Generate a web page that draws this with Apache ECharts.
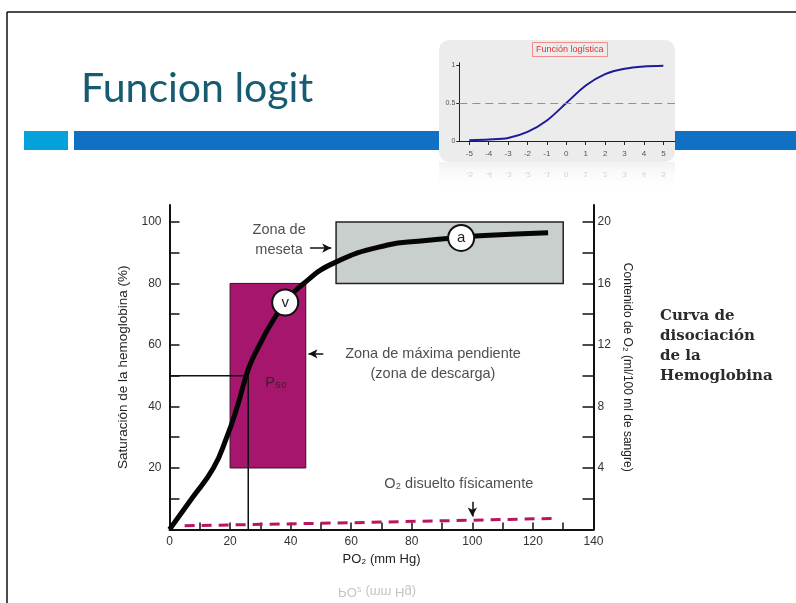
<!DOCTYPE html>
<html>
<head>
<meta charset="utf-8">
<script src="https://cdn.jsdelivr.net/npm/echarts@6/dist/echarts.min.js"></script>
<style>
    html, body { margin: 0; padding: 0; background: #fff; }
    #chart { width: 796px; height: 603px; }
</style>
</head>
<body>
<div id="chart"></div>
<script>
    // curva de disociacion de la hemoglobina
    const po2 = [0, 7.3, 14.5, 18.9, 22.4, 25.3, 27.2, 30, 33, 38.2, 43.7, 54.2, 72, 83, 96, 104, 125]
    const saturacion = [0, 10, 20, 30, 40, 50, 55, 60.5, 66, 73.8, 79.5, 86.6, 92.5, 93.8, 95, 95.6, 96.5]
    // O2 disuelto fisicamente
    const disueltoPO2 = [5, 60, 127]
    const disueltoSat = [1.2, 2.2, 3.6]
    // P50
    const p50 = 26
    // puntos v (venoso) y a (arterial)
    const puntos = [['v', 38.2, 73.8], ['a', 96.3, 94.8]]
    // zonas
    const zonaDescarga = [[20, 20], [45, 80]]
    const zonaMeseta = [[55, 80], [130, 100]]
    // ejes
    const ticksX = [10, 20, 30, 40, 50, 60, 70, 80, 90, 100, 110, 120, 130]
    const labelsX = [0, 20, 40, 60, 80, 100, 120, 140]
    const ticksSat = [10, 20, 30, 40, 50, 60, 70, 80, 90, 100]
    const labelsSat = [20, 40, 60, 80, 100]
    const ticksO2 = [2, 4, 6, 8, 10, 12, 14, 16, 18, 20]
    const labelsO2 = [4, 8, 12, 16, 20]
    // textos y flechas
    const notas = [
        ['Zona de\nmeseta', 36.2, 94.2],
        ['Zona de máxima pendiente\n(zona de descarga)', 87, 53.8],
        ['O₂ disuelto físicamente', 95.5, 14.8],
        ['P₅₀', 35.2, 47.5]
    ]
    const flechas = [
        [[46.4, 91.5], [53.4, 91.5]],
        [[50.8, 57.1], [45.9, 57.1]],
        [[100, 9], [100, 4.2]]
    ]
    // funcion logistica (recuadro)
    const logitX = [-5, -4, -3, -2, -1, 0, 1, 2, 3, 4, 5]
    const logitY = [0.01, 0.02, 0.04, 0.12, 0.27, 0.5, 0.73, 0.88, 0.95, 0.98, 0.99]
    const logitTicksY = [0, 0.5, 1]

    const font = 'Liberation Sans, Arial, sans-serif'
    const chart = echarts.init(document.getElementById('chart'))

    const option = {
        animation: false,
        title: [
            {
                text: 'Funcion logit',
                left: 81, top: 68, padding: 0,
                textStyle: { fontFamily: 'Lato', fontSize: 41, fontWeight: 'normal', color: '#175b70' }
            },
            {
                text: 'Función logística',
                left: 532, top: 42, padding: [3, 4],
                borderWidth: 1, borderColor: '#f08c8c',
                textStyle: { fontFamily: font, fontSize: 9, fontWeight: 'normal', color: '#ee2b2b' }
            }
        ],
        grid: [
            { left: 169.5, right: 202.5, top: 205, bottom: 73.5 },
            { left: 459.3, right: 121, top: 62.7, bottom: 462 }
        ],
        xAxis: [
            {
                type: 'value', gridIndex: 0, min: 0, max: 140,
                name: 'PO₂ (mm Hg)', nameLocation: 'middle', nameGap: 23,
                nameTextStyle: { fontFamily: font, fontSize: 13, color: '#222' },
                axisLine: { lineStyle: { color: '#111', width: 2 } },
                axisTick: { inside: true, length: 7, customValues: ticksX, lineStyle: { color: '#111', width: 1.5 } },
                axisLabel: { customValues: labelsX, margin: 6, fontFamily: font, fontSize: 12, color: '#333' },
                splitLine: { show: false }
            },
            {
                type: 'value', gridIndex: 1, min: -5.515, max: 5.6,
                axisLine: { onZero: false, lineStyle: { color: '#222', width: 1 } },
                axisTick: { customValues: logitX, length: 4, lineStyle: { color: '#222' } },
                axisLabel: { customValues: logitX, margin: 9, fontFamily: font, fontSize: 8, color: '#555' },
                splitLine: { show: false }
            }
        ],
        yAxis: [
            {
                type: 'value', gridIndex: 0, min: 0, max: 105.5,
                name: 'Saturación de la hemoglobina (%)', nameLocation: 'middle', nameGap: 30, nameRotate: 90,
                nameTextStyle: { fontFamily: font, fontSize: 13.5, color: '#222' },
                axisLine: { show: true, lineStyle: { color: '#111', width: 2 } },
                axisTick: { inside: true, length: 10, customValues: ticksSat, lineStyle: { color: '#111', width: 1.5 } },
                axisLabel: { customValues: labelsSat, margin: 8, fontFamily: font, fontSize: 12, color: '#333' },
                splitLine: { show: false }
            },
            {
                type: 'value', gridIndex: 0, position: 'right', min: 0, max: 21.1,
                name: 'Contenido de O₂ (ml/100 ml de sangre)', nameLocation: 'middle', nameGap: 24, nameRotate: -90,
                nameTextStyle: { fontFamily: font, fontSize: 12, color: '#222' },
                axisLine: { show: true, lineStyle: { color: '#111', width: 2 } },
                axisTick: { inside: true, length: 11, customValues: ticksO2, lineStyle: { color: '#111', width: 1.5 } },
                axisLabel: { customValues: labelsO2, margin: 4, fontFamily: font, fontSize: 12, color: '#333' },
                splitLine: { show: false }
            },
            {
                type: 'value', gridIndex: 1, min: 0, max: 1.03,
                axisLine: { show: true, onZero: false, lineStyle: { color: '#222', width: 1 } },
                axisTick: { customValues: logitTicksY, length: 3, lineStyle: { color: '#222' } },
                axisLabel: { customValues: logitTicksY, margin: 4, fontFamily: font, fontSize: 7, color: '#555' },
                splitLine: { show: false }
            }
        ],
        series: [
            {
                // zonas
                type: 'line', xAxisIndex: 0, yAxisIndex: 0, data: [], z: 1,
                markArea: {
                    silent: true,
                    data: [
                        [
                            { coord: zonaDescarga[0], itemStyle: { color: '#a5166c', borderColor: '#3a1028', borderWidth: 1 } },
                            { coord: zonaDescarga[1] }
                        ],
                        [
                            { coord: zonaMeseta[0], itemStyle: { color: '#c8cfcc', borderColor: '#222', borderWidth: 1.5 } },
                            { coord: zonaMeseta[1] }
                        ]
                    ]
                }
            },
            {
                // lineas de P50
                type: 'line', xAxisIndex: 0, yAxisIndex: 0, z: 3,
                data: [[0, 50], [p50, 50], [p50, 0]],
                symbol: 'none',
                lineStyle: { color: '#111', width: 1.5 }
            },
            {
                type: 'line', xAxisIndex: 0, yAxisIndex: 0, z: 3,
                data: disueltoPO2.map((x, i) => [x, disueltoSat[i]]),
                symbol: 'none',
                lineStyle: { color: '#b8175f', width: 3, type: [10, 7] }
            },
            {
                type: 'line', xAxisIndex: 0, yAxisIndex: 0, z: 4,
                data: po2.map((x, i) => [x, saturacion[i]]),
                smooth: 0.5,
                symbol: 'none',
                lineStyle: { color: '#050505', width: 5 }
            },
            {
                type: 'scatter', xAxisIndex: 0, yAxisIndex: 0, z: 5,
                data: puntos.map(p => [p[1], p[2], p[0]]),
                symbolSize: 26,
                itemStyle: { color: '#fff', borderColor: '#111', borderWidth: 2, opacity: 1 },
                label: { show: true, position: 'inside', formatter: p => p.data[2], fontFamily: font, fontSize: 15, color: '#222' }
            },
            {
                type: 'scatter', xAxisIndex: 0, yAxisIndex: 0, z: 6,
                data: notas.map(n => [n[1], n[2], n[0]]),
                symbolSize: 0,
                label: {
                    show: true, position: 'inside', formatter: p => p.data[2],
                    fontFamily: font, fontSize: 14.5, lineHeight: 20, color: '#222', align: 'center'
                },
                markLine: {
                    silent: true,
                    symbol: ['none', 'arrow'], symbolSize: [7, 9],
                    label: { show: false },
                    lineStyle: { color: '#111', width: 1.5, type: 'solid' },
                    data: flechas.map(f => [{ coord: f[0] }, { coord: f[1] }])
                }
            },
            {
                type: 'line', xAxisIndex: 1, yAxisIndex: 2, z: 3,
                data: logitX.map((x, i) => [x, logitY[i]]),
                smooth: 0.3,
                symbol: 'none',
                lineStyle: { color: '#1c1c98', width: 2 },
                markLine: {
                    silent: true, symbol: 'none',
                    label: { show: false },
                    lineStyle: { color: '#8a8ac8', width: 1.2, type: [8, 5] },
                    data: [{ yAxis: 0.5 }]
                }
            }
        ],
        graphic: [
            { type: 'line', z: -5, shape: { x1: 7, y1: 12, x2: 796, y2: 12 }, style: { stroke: '#111', lineWidth: 1.5 } },
            { type: 'line', z: -5, shape: { x1: 7, y1: 12, x2: 7, y2: 603 }, style: { stroke: '#111', lineWidth: 1.5 } },
            { type: 'rect', z: -5, shape: { x: 24, y: 131, width: 44, height: 19 }, style: { fill: '#05a1da' } },
            { type: 'rect', z: -5, shape: { x: 74, y: 131, width: 722, height: 19 }, style: { fill: '#1070c4' } },
            { type: 'rect', z: -4, shape: { x: 439, y: 40, width: 236, height: 122, r: 10 }, style: { fill: '#ececec' } },
            {
                type: 'rect', z: -4, shape: { x: 439, y: 162, width: 236, height: 30 },
                style: {
                    fill: new echarts.graphic.LinearGradient(0, 0, 0, 1, [
                        { offset: 0, color: 'rgba(236,236,236,0.7)' },
                        { offset: 1, color: 'rgba(255,255,255,0)' }
                    ])
                }
            },
            {
                type: 'text', z: 5, left: 660, top: 306,
                style: {
                    text: 'Curva de\ndisociación\nde la\nHemoglobina',
                    fontFamily: 'DejaVu Serif', fontWeight: 'bold', fontSize: 15, lineHeight: 20, fill: '#2a2a2a'
                }
            },
            {
                type: 'text', z: -3, x: 377, y: 592, scaleY: -1,
                style: { text: 'PO₂ (mm Hg)', fontFamily: font, fontSize: 13, fill: '#c4c4c4', align: 'center', verticalAlign: 'middle' }
            }
        ]
    }

    chart.setOption(option)

    // reflejo de las etiquetas del recuadro
    const reflejo = logitX.map(v => ({
        type: 'text', z: -3,
        x: chart.convertToPixel({ xAxisIndex: 1 }, v), y: 174, scaleY: -1,
        style: { text: String(v), fontFamily: font, fontSize: 8, fill: '#d4d4d4', align: 'center', verticalAlign: 'middle' }
    }))
    chart.setOption({ graphic: option.graphic.concat(reflejo) })
</script>
</body>
</html>
